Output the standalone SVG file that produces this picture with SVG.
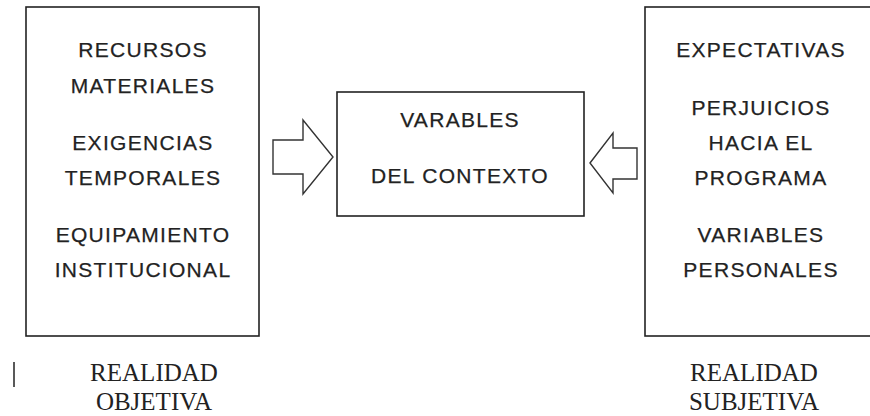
<svg xmlns="http://www.w3.org/2000/svg" width="870" height="416" viewBox="0 0 870 416">
<style>
.box{fill:#fff;stroke:#222;stroke-width:1.6}
.arrow{fill:#fff;stroke:#333;stroke-width:1.4;stroke-linejoin:miter}
.t{font-family:"Liberation Sans",Arial,sans-serif;font-size:21px;letter-spacing:1.3px;fill:#222;stroke:#222;stroke-width:0.25;text-anchor:middle}
.s{font-family:"Liberation Serif","Times New Roman",serif;font-size:25px;fill:#222;text-anchor:middle}
</style>
<rect width="870" height="416" fill="#fff"/>
<g id="objetiva">
<rect class="box" x="26" y="7" width="233" height="329"/>
<text class="t" x="143" y="57">RECURSOS</text>
<text class="t" x="143" y="93">MATERIALES</text>
<text class="t" x="143" y="150">EXIGENCIAS</text>
<text class="t" x="143" y="185">TEMPORALES</text>
<text class="t" x="143" y="242">EQUIPAMIENTO</text>
<text class="t" x="143" y="277">INSTITUCIONAL</text>
</g>
<g id="contexto">
<rect class="box" x="337" y="92" width="247" height="124"/>
<text class="t" x="460" y="127">VARABLES</text>
<text class="t" x="460" y="183">DEL CONTEXTO</text>
</g>
<g id="subjetiva">
<rect class="box" x="645" y="7" width="240" height="329"/>
<text class="t" x="761" y="57">EXPECTATIVAS</text>
<text class="t" x="761" y="115">PERJUICIOS</text>
<text class="t" x="761" y="150">HACIA EL</text>
<text class="t" x="761" y="185">PROGRAMA</text>
<text class="t" x="761" y="242">VARIABLES</text>
<text class="t" x="761" y="277">PERSONALES</text>
</g>
<g id="connectors">
<polygon class="arrow" points="273,140 303,140 303,120 333,157 303,194 303,174 273,174"/>
<polygon class="arrow" points="590,163 613,133 613,148 637,148 637,179 613,179 613,193"/>
</g>
<g id="labels">
<line x1="14" y1="362" x2="14" y2="387" stroke="#222" stroke-width="1.5"/>
<text class="s" x="154" y="381">REALIDAD</text>
<text class="s" x="154" y="410">OBJETIVA</text>
<text class="s" x="754" y="381">REALIDAD</text>
<text class="s" x="754" y="410">SUBJETIVA</text>
</g>
</svg>
